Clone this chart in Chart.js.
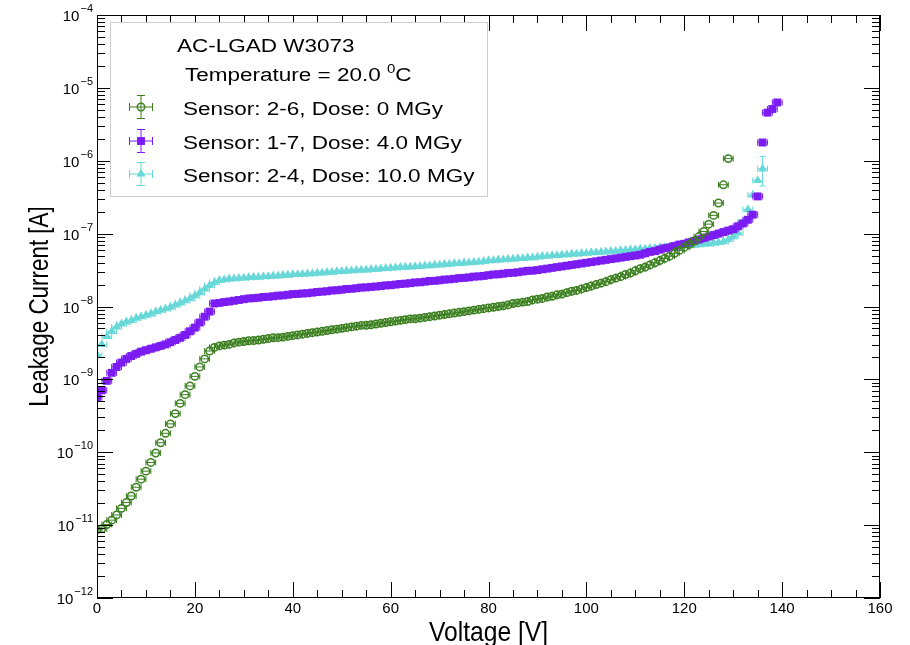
<!DOCTYPE html>
<html>
<head>
<meta charset="utf-8">
<script src="https://cdn.jsdelivr.net/npm/chart.js@4.4.1/dist/chart.umd.min.js"></script>
<style>
  html, body { margin: 0; padding: 0; background: #fff; }
  #wrap { width: 910px; height: 645px; }
</style>
</head>
<body>
<div id="wrap"><canvas id="ivChart" width="910" height="645"></canvas></div>
<script>
'use strict';
// ===================== data =====================
const voltage = [
    0, 1, 2, 3, 4, 5, 6, 7, 8, 9, 10, 11, 12, 13, 14, 15, 16, 17, 18, 19,
    20, 21, 22, 23, 24, 25, 26, 27, 28, 29, 30, 31, 32, 33, 34, 35, 36, 37, 38, 39,
    40, 41, 42, 43, 44, 45, 46, 47, 48, 49, 50, 51, 52, 53, 54, 55, 56, 57, 58, 59,
    60, 61, 62, 63, 64, 65, 66, 67, 68, 69, 70, 71, 72, 73, 74, 75, 76, 77, 78, 79,
    80, 81, 82, 83, 84, 85, 86, 87, 88, 89, 90, 91, 92, 93, 94, 95, 96, 97, 98, 99,
    100, 101, 102, 103, 104, 105, 106, 107, 108, 109, 110, 111, 112, 113, 114, 115, 116, 117, 118, 119,
    120, 121, 122, 123, 124, 125, 126, 127, 128, 129, 130, 131, 132, 133, 134, 135, 136, 137, 138, 139
];

// Sensor 2-6, 0 MGy (0 .. 129 V)
const current26 = [
    8.7e-12, 8.9e-12, 1.02e-11, 1.17e-11, 1.38e-11, 1.70e-11, 2.04e-11, 2.51e-11, 3.31e-11, 4.27e-11,
    5.50e-11, 7.24e-11, 9.77e-11, 1.35e-10, 1.82e-10, 2.45e-10, 3.39e-10, 4.68e-10, 6.17e-10, 8.13e-10,
    1.10e-9, 1.48e-9, 1.91e-9, 2.45e-9, 2.75e-9, 2.88e-9, 2.95e-9, 3.02e-9, 3.16e-9, 3.24e-9,
    3.31e-9, 3.39e-9, 3.41e-9, 3.47e-9, 3.55e-9, 3.63e-9, 3.72e-9, 3.74e-9, 3.80e-9, 3.89e-9,
    3.98e-9, 4.07e-9, 4.17e-9, 4.27e-9, 4.37e-9, 4.47e-9, 4.57e-9, 4.68e-9, 4.79e-9, 4.90e-9,
    5.01e-9, 5.13e-9, 5.25e-9, 5.37e-9, 5.50e-9, 5.52e-9, 5.62e-9, 5.75e-9, 5.89e-9, 6.03e-9,
    6.17e-9, 6.31e-9, 6.46e-9, 6.61e-9, 6.76e-9, 6.79e-9, 6.92e-9, 7.08e-9, 7.24e-9, 7.41e-9,
    7.59e-9, 7.76e-9, 7.94e-9, 8.13e-9, 8.32e-9, 8.51e-9, 8.71e-9, 8.91e-9, 9.12e-9, 9.33e-9,
    9.55e-9, 9.77e-9, 1.00e-8, 1.02e-8, 1.05e-8, 1.10e-8, 1.12e-8, 1.15e-8, 1.17e-8, 1.23e-8,
    1.26e-8, 1.29e-8, 1.35e-8, 1.38e-8, 1.45e-8, 1.48e-8, 1.55e-8, 1.62e-8, 1.66e-8, 1.74e-8,
    1.82e-8, 1.91e-8, 2.00e-8, 2.09e-8, 2.19e-8, 2.34e-8, 2.45e-8, 2.57e-8, 2.75e-8, 2.88e-8,
    3.09e-8, 3.31e-8, 3.47e-8, 3.72e-8, 3.98e-8, 4.27e-8, 4.57e-8, 4.90e-8, 5.37e-8, 5.89e-8,
    6.46e-8, 7.08e-8, 7.94e-8, 9.12e-8, 1.07e-7, 1.35e-7, 1.78e-7, 2.63e-7, 4.68e-7, 1.07e-6
];

// Sensor 1-7, 4.0 MGy (0 .. 139 V)
const current17 = [
    5.62e-10, 7.08e-10, 9.55e-10, 1.23e-9, 1.48e-9, 1.70e-9, 1.91e-9, 2.09e-9, 2.24e-9, 2.40e-9,
    2.51e-9, 2.63e-9, 2.75e-9, 2.88e-9, 3.02e-9, 3.24e-9, 3.47e-9, 3.72e-9, 4.07e-9, 4.57e-9,
    5.13e-9, 6.03e-9, 7.24e-9, 8.51e-9, 1.10e-8, 1.12e-8, 1.15e-8, 1.17e-8, 1.20e-8, 1.23e-8,
    1.26e-8, 1.29e-8, 1.30e-8, 1.32e-8, 1.35e-8, 1.36e-8, 1.38e-8, 1.41e-8, 1.42e-8, 1.45e-8,
    1.48e-8, 1.49e-8, 1.51e-8, 1.52e-8, 1.55e-8, 1.58e-8, 1.60e-8, 1.62e-8, 1.66e-8, 1.67e-8,
    1.70e-8, 1.74e-8, 1.75e-8, 1.78e-8, 1.82e-8, 1.83e-8, 1.86e-8, 1.88e-8, 1.91e-8, 1.95e-8,
    1.96e-8, 2.00e-8, 2.04e-8, 2.06e-8, 2.09e-8, 2.14e-8, 2.15e-8, 2.19e-8, 2.24e-8, 2.25e-8,
    2.29e-8, 2.34e-8, 2.36e-8, 2.40e-8, 2.45e-8, 2.47e-8, 2.51e-8, 2.57e-8, 2.59e-8, 2.63e-8,
    2.69e-8, 2.75e-8, 2.77e-8, 2.82e-8, 2.88e-8, 2.90e-8, 2.95e-8, 3.02e-8, 3.09e-8, 3.10e-8,
    3.16e-8, 3.24e-8, 3.31e-8, 3.39e-8, 3.47e-8, 3.55e-8, 3.63e-8, 3.72e-8, 3.80e-8, 3.89e-8,
    3.98e-8, 4.07e-8, 4.17e-8, 4.27e-8, 4.37e-8, 4.47e-8, 4.57e-8, 4.68e-8, 4.79e-8, 4.90e-8,
    5.01e-8, 5.13e-8, 5.37e-8, 5.62e-8, 5.75e-8, 6.03e-8, 6.31e-8, 6.46e-8, 6.76e-8, 7.08e-8,
    7.24e-8, 7.59e-8, 7.94e-8, 8.32e-8, 8.71e-8, 9.12e-8, 9.55e-8, 1.00e-7, 1.05e-7, 1.10e-7,
    1.15e-7, 1.26e-7, 1.38e-7, 1.55e-7, 1.82e-7, 3.24e-7, 1.78e-6, 4.57e-6, 5.13e-6, 6.31e-6
];

// Sensor 2-4, 10.0 MGy (0 .. 136 V)
const current24 = [
    2.19e-9, 3.02e-9, 3.89e-9, 4.57e-9, 5.25e-9, 5.75e-9, 6.17e-9, 6.46e-9, 6.92e-9, 7.24e-9,
    7.59e-9, 7.94e-9, 8.51e-9, 8.91e-9, 9.33e-9, 9.77e-9, 1.05e-8, 1.12e-8, 1.20e-8, 1.29e-8,
    1.41e-8, 1.55e-8, 1.74e-8, 1.95e-8, 2.14e-8, 2.29e-8, 2.34e-8, 2.40e-8, 2.41e-8, 2.45e-8,
    2.46e-8, 2.51e-8, 2.52e-8, 2.53e-8, 2.57e-8, 2.58e-8, 2.63e-8, 2.64e-8, 2.69e-8, 2.70e-8,
    2.75e-8, 2.76e-8, 2.77e-8, 2.82e-8, 2.83e-8, 2.88e-8, 2.89e-8, 2.95e-8, 2.96e-8, 3.02e-8,
    3.03e-8, 3.09e-8, 3.10e-8, 3.16e-8, 3.17e-8, 3.18e-8, 3.24e-8, 3.25e-8, 3.31e-8, 3.32e-8,
    3.39e-8, 3.40e-8, 3.47e-8, 3.48e-8, 3.49e-8, 3.55e-8, 3.56e-8, 3.63e-8, 3.64e-8, 3.72e-8,
    3.73e-8, 3.80e-8, 3.81e-8, 3.89e-8, 3.90e-8, 3.98e-8, 3.99e-8, 4.07e-8, 4.08e-8, 4.17e-8,
    4.27e-8, 4.28e-8, 4.37e-8, 4.38e-8, 4.47e-8, 4.48e-8, 4.57e-8, 4.58e-8, 4.68e-8, 4.69e-8,
    4.79e-8, 4.90e-8, 4.91e-8, 5.01e-8, 5.02e-8, 5.13e-8, 5.14e-8, 5.25e-8, 5.26e-8, 5.37e-8,
    5.38e-8, 5.50e-8, 5.51e-8, 5.62e-8, 5.63e-8, 5.75e-8, 5.76e-8, 5.89e-8, 5.90e-8, 6.03e-8,
    6.04e-8, 6.17e-8, 6.18e-8, 6.31e-8, 6.32e-8, 6.46e-8, 6.47e-8, 6.61e-8, 6.62e-8, 6.76e-8,
    6.77e-8, 6.92e-8, 6.93e-8, 7.08e-8, 7.24e-8, 7.25e-8, 7.41e-8, 7.59e-8, 7.76e-8, 8.32e-8,
    9.12e-8, 1.02e-7, 1.45e-7, 2.14e-7, 3.39e-7, 5.37e-7, 7.76e-7
];

// voltage uncertainty (half width, V) and the few visible current error bars
const voltageErr = 1.0;
const bigErrSeries = [2];
const bigErrVoltage = [136];
const bigErrLow = [4.5e-7];
const bigErrHigh = [1.15e-6];

const seriesLabels = ['Sensor: 2-6, Dose: 0 MGy', 'Sensor: 1-7, Dose: 4.0 MGy', 'Sensor: 2-4, Dose: 10.0 MGy'];
const legendTitle = 'AC-LGAD W3073';
const legendTemp = ['Temperature = 20.0 ', '0', 'C'];

const xTickValues = [0, 20, 40, 60, 80, 100, 120, 140, 160];
const yTickExponents = [-12, -11, -10, -9, -8, -7, -6, -5, -4];
const xTitle = 'Voltage [V]';
const yTitle = 'Leakage Current [A]';

// ===================== style =====================
const GREEN = '#3b7f1f';
const PURPLE = '#7a1cf2';
const CYAN = '#68d8d8';
const FONT = '"Liberation Sans", Arial, Helvetica, sans-serif';

function points(ys) {
    return ys.map((y, i) => ({ x: voltage[i], y }));
}

function drawScaledText(ctx, text, x, y, size, sx, align, rot) {
    ctx.save();
    ctx.font = `${size}px ${FONT}`;
    ctx.translate(x, y);
    if (rot) ctx.rotate(rot);
    ctx.scale(sx, 1);
    const w = ctx.measureText(text).width;
    let dx = 0;
    if (align === 'center') dx = -w / 2;
    else if (align === 'right') dx = -w;
    ctx.textBaseline = 'alphabetic';
    ctx.fillText(text, dx, 0);
    ctx.restore();
    return w * sx;
}

function drawErrCross(ctx, x, y, hx, yLo, yHi, color, cap) {
    ctx.strokeStyle = color;
    ctx.lineWidth = 1;
    ctx.beginPath();
    ctx.moveTo(x - hx, y); ctx.lineTo(x + hx, y);
    ctx.moveTo(x - hx, y - cap); ctx.lineTo(x - hx, y + cap);
    ctx.moveTo(x + hx, y - cap); ctx.lineTo(x + hx, y + cap);
    if (yLo !== null) {
        ctx.moveTo(x, yLo); ctx.lineTo(x, yHi);
        ctx.moveTo(x - cap, yLo); ctx.lineTo(x + cap, yLo);
        ctx.moveTo(x - cap, yHi); ctx.lineTo(x + cap, yHi);
    }
    ctx.stroke();
}

// error bars drawn right before each graph's markers
const errorBars = {
    id: 'errorBars',
    beforeDatasetDraw(chart, args) {
        const { ctx, scales: { x, y } } = chart;
        const ds = chart.data.datasets[args.index];
        ctx.save();
        ctx.beginPath();
        ctx.rect(chart.chartArea.left, chart.chartArea.top, chart.chartArea.width, chart.chartArea.height);
        ctx.clip();
        ds.data.forEach(p => {
            const px = x.getPixelForValue(p.x);
            const py = y.getPixelForValue(p.y);
            const hx = x.getPixelForValue(p.x + voltageErr) - px;
            let lo = null, hi = null;
            bigErrSeries.forEach((s, k) => {
                if (s === args.index && bigErrVoltage[k] === p.x) {
                    lo = y.getPixelForValue(bigErrLow[k]);
                    hi = y.getPixelForValue(bigErrHigh[k]);
                }
            });
            drawErrCross(ctx, px, py, hx, lo, hi, ds.borderColor, 3);
        });
        ctx.restore();
    }
};

// ROOT-like frame, ticks, labels, titles and legend
const frame = {
    id: 'frame',
    afterDraw(chart) {
        const { ctx, chartArea: a, scales: { x, y } } = chart;
        ctx.save();
        ctx.strokeStyle = '#000';
        ctx.fillStyle = '#000';
        ctx.lineWidth = 1;
        ctx.strokeRect(a.left + 0.5, a.top + 0.5, a.width - 1, a.height - 1);

        ctx.beginPath();
        // x ticks: major 20, minor 5
        for (let v = 0; v <= 160; v += 5) {
            const px = Math.round(x.getPixelForValue(v)) + 0.5;
            const len = v % 20 === 0 ? 16 : 8;
            ctx.moveTo(px, a.bottom); ctx.lineTo(px, a.bottom - len);
            ctx.moveTo(px, a.top); ctx.lineTo(px, a.top + len);
        }
        // y ticks: decades and 2..9 minors
        yTickExponents.forEach((e, i) => {
            const py = Math.round(y.getPixelForValue(Math.pow(10, e))) + 0.5;
            ctx.moveTo(a.left, py); ctx.lineTo(a.left + 16, py);
            ctx.moveTo(a.right, py); ctx.lineTo(a.right - 16, py);
            if (i < yTickExponents.length - 1) {
                for (let m = 2; m <= 9; m++) {
                    const pm = Math.round(y.getPixelForValue(m * Math.pow(10, e))) + 0.5;
                    ctx.moveTo(a.left, pm); ctx.lineTo(a.left + 8, pm);
                    ctx.moveTo(a.right, pm); ctx.lineTo(a.right - 8, pm);
                }
            }
        });
        ctx.stroke();

        // tick labels
        xTickValues.forEach(v => {
            drawScaledText(ctx, String(v), x.getPixelForValue(v), a.bottom + 15, 15, 1, 'center');
        });
        yTickExponents.forEach(e => {
            const py = y.getPixelForValue(Math.pow(10, e));
            const sup = '\u2212' + Math.abs(e);
            ctx.font = `11px ${FONT}`;
            const ws = ctx.measureText(sup).width;
            const right = a.left - 4;
            drawScaledText(ctx, sup, right - ws, py - 3, 11, 1, 'left');
            drawScaledText(ctx, '10', right - ws - 1, py + 6, 15, 1, 'right');
        });

        // axis titles
        drawScaledText(ctx, xTitle, (a.left + a.right) / 2, 641, 28, 0.88, 'center');
        drawScaledText(ctx, yTitle, 48, (a.top + a.bottom) / 2, 28, 0.80, 'center', -Math.PI / 2);

        // legend
        const lx = 110, ly = 22, lw = 377, lh = 174;
        ctx.fillStyle = '#fff';
        ctx.fillRect(lx, ly, lw, lh);
        ctx.strokeStyle = '#cfcfcf';
        ctx.strokeRect(lx + 0.5, ly + 0.5, lw, lh);
        ctx.fillStyle = '#000';
        drawScaledText(ctx, legendTitle, 177, 52, 18, 1.25, 'left');
        let tx = 185;
        tx += drawScaledText(ctx, legendTemp[0], tx, 81, 18, 1.25, 'left');
        tx += drawScaledText(ctx, legendTemp[1], tx, 73, 12, 1.25, 'left');
        drawScaledText(ctx, legendTemp[2], tx, 81, 18, 1.25, 'left');

        const rows = [107, 141, 174];
        chart.data.datasets.forEach((ds, i) => {
            const cy = rows[i];
            drawErrCross(ctx, 141, cy, 11.5, cy - 11.5, cy + 11.5, ds.borderColor, 4);
            ctx.save();
            ctx.fillStyle = ds.backgroundColor;
            ctx.strokeStyle = ds.borderColor;
            ctx.lineWidth = ds.borderWidth;
            Chart.helpers.drawPoint(ctx, {
                pointStyle: ds.pointStyle,
                radius: ds.pointRadius,
                borderWidth: ds.borderWidth,
                rotation: 0
            }, 141, cy);
            ctx.restore();
            ctx.fillStyle = '#000';
            drawScaledText(ctx, ds.label, 183, cy + 7.5, 18, 1.25, 'left');
        });
        ctx.restore();
    }
};

const ctx = document.getElementById('ivChart').getContext('2d');
new Chart(ctx, {
    type: 'scatter',
    data: {
        datasets: [
            {
                label: seriesLabels[0],
                data: points(current26),
                pointStyle: 'circle',
                pointRadius: 3.7,
                borderWidth: 1.5,
                borderColor: GREEN,
                backgroundColor: 'rgba(0,0,0,0)'
            },
            {
                label: seriesLabels[1],
                data: points(current17),
                pointStyle: 'rect',
                pointRadius: 5.6,
                borderWidth: 0,
                borderColor: PURPLE,
                backgroundColor: PURPLE
            },
            {
                label: seriesLabels[2],
                data: points(current24),
                pointStyle: 'triangle',
                pointRadius: 5.2,
                borderWidth: 0,
                borderColor: CYAN,
                backgroundColor: CYAN
            }
        ]
    },
    options: {
        responsive: false,
        animation: false,
        layout: { padding: { left: 97, right: 30, top: 15, bottom: 47 } },
        plugins: {
            legend: { display: false },
            tooltip: { enabled: false }
        },
        elements: { point: { hoverRadius: 0 } },
        scales: {
            x: { type: 'linear', min: 0, max: 160, display: false },
            y: { type: 'logarithmic', min: 1e-12, max: 1e-4, display: false }
        }
    },
    plugins: [errorBars, frame]
});
</script>
</body>
</html>
